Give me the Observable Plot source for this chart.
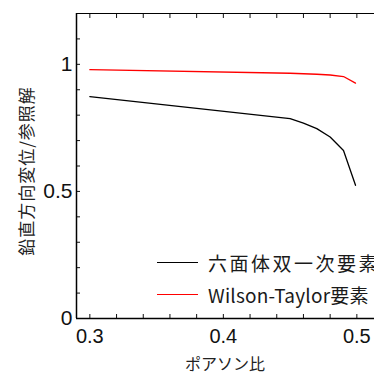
<!DOCTYPE html>
<html><head><meta charset="utf-8">
<script src="https://cdn.jsdelivr.net/npm/d3@7"></script>
<script src="https://cdn.jsdelivr.net/npm/@observablehq/plot@0.6"></script>
<style>
body{margin:0;background:#fff;}
#wrap{position:relative;width:374px;height:372px;overflow:hidden;font-family:"Liberation Sans",Arial,sans-serif;}
.leg{position:absolute;display:flex;align-items:center;font-family:"Noto Sans CJK JP",sans-serif;font-size:19px;color:#1a1a1a;white-space:nowrap;line-height:1;}
.leg span.sw{display:inline-block;width:41px;height:0;border-top:1.5px solid;margin-right:10px;}
</style></head>
<body><div id="wrap"></div>
<script>
const poisson = [0.3, 0.45, 0.46, 0.47, 0.48, 0.49, 0.499];
const hexa = [0.873, 0.786, 0.769, 0.747, 0.714, 0.661, 0.524];
const wilson = [0.979, 0.965, 0.963, 0.961, 0.958, 0.952, 0.926];
const seriesNames = ["六面体双一次要素", "Wilson-Taylor要素"];
const seriesColors = ["#000000", "#ff0000"];
const xMajor = [0.3, 0.4, 0.5];
const xMinor = d3.range(0.3, 0.5001, 0.02);
const yMajor = [0, 0.5, 1];
const yMinor = d3.range(0, 1.2001, 0.1);

const rows = [];
poisson.forEach((p, i) => {
  rows.push({x: p, y: hexa[i], s: seriesNames[0]});
  rows.push({x: p, y: wilson[i], s: seriesNames[1]});
});

const xmin = 0.29, xmax = 0.29 + 298/1335;
const chart = Plot.plot({
  width: 374, height: 372,
  marginLeft: 76, marginRight: 0, marginTop: 13, marginBottom: 54,
  x: {domain: [xmin, xmax], label: null},
  y: {domain: [0, 1.2], label: null},
  color: {domain: seriesNames, range: seriesColors},
  style: {fontFamily: "Liberation Sans, Arial, sans-serif", color: "#111"},
  marks: [
    Plot.axisX({ticks: xMinor, tickSize: -4, tickFormat: () => "", anchor: "bottom", label: null}),
    Plot.axisX({ticks: xMinor, tickSize: -4, tickFormat: () => "", anchor: "top", label: null}),
    Plot.axisX({ticks: xMajor, tickSize: 0, tickPadding: 10, fontSize: 20, tickFormat: d3.format(".1f"), anchor: "bottom", label: null}),
    Plot.axisY({ticks: yMinor, tickSize: -4, tickFormat: () => "", anchor: "left", label: null}),
    Plot.axisY({ticks: yMajor, tickSize: 0, tickPadding: 4, fontSize: 21, tickFormat: d => d === 0 ? "0" : (d === 1 ? "1" : "0.5"), anchor: "left", label: null}),
    Plot.ruleX([xmin], {stroke: "#000", strokeWidth: 1.5}),
    Plot.ruleY([0], {stroke: "#000", strokeWidth: 1.5}),
    Plot.ruleY([1.2], {stroke: "#000", strokeWidth: 1.2}),
    Plot.line(rows, {x: "x", y: "y", z: "s", stroke: "s", strokeWidth: 1.3})
  ]
});
const wrap = document.getElementById("wrap");
wrap.appendChild(chart);

// axis titles
const yl = document.createElement("div");
yl.textContent = "鉛直方向変位/参照解";
yl.style.cssText = "position:absolute;left:25px;top:171px;transform:translate(-50%,-50%) rotate(-90deg);font-family:'Noto Sans CJK JP',sans-serif;font-size:17px;letter-spacing:1px;line-height:1;color:#222;white-space:nowrap;";
wrap.appendChild(yl);
const xl = document.createElement("div");
xl.textContent = "ポアソン比";
xl.style.cssText = "position:absolute;left:225px;top:363px;transform:translate(-50%,-50%);font-family:'Noto Sans CJK JP',sans-serif;font-size:16px;line-height:1;color:#222;white-space:nowrap;";
wrap.appendChild(xl);

// legend
seriesNames.forEach((n, i) => {
  const d = document.createElement("div");
  d.className = "leg";
  d.style.left = "157px";
  d.style.top = (i === 0 ? 262 : 294) - 13 + "px";
  d.style.height = "26px";
  d.innerHTML = `<span class="sw" style="border-color:${seriesColors[i]}"></span><span style="letter-spacing:${i === 0 ? 2.5 : 0.2}px">${n}</span>`;
  wrap.appendChild(d);
});
</script></body></html>
